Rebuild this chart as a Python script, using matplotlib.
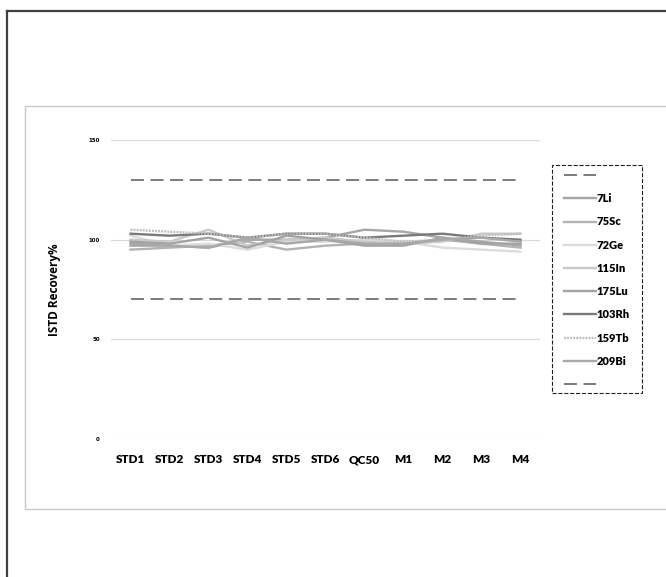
import matplotlib.pyplot as plt
import matplotlib.patches as mpatches
from matplotlib.lines import Line2D

samples = ["STD1", "STD2", "STD3", "STD4", "STD5", "STD6", "QC50", "M1", "M2", "M3", "M4"]
upper_limit = [130] * 11
lower_limit = [70] * 11

isotopes = ["7Li", "75Sc", "72Ge", "115In", "175Lu", "103Rh", "159Tb", "209Bi"]
li7   = [98, 97, 96, 100, 100, 101, 105, 104, 101, 99, 97]
sc75  = [95, 96, 97, 99, 95, 97, 98, 98, 100, 98, 96]
ge72  = [102, 97, 98, 95, 99, 99, 100, 99, 96, 95, 94]
in115 = [100, 99, 105, 97, 100, 101, 99, 98, 99, 103, 103]
lu175 = [99, 98, 101, 96, 102, 100, 97, 97, 101, 98, 98]
rh103 = [103, 102, 103, 101, 103, 103, 101, 102, 103, 101, 100]
tb159 = [105, 104, 103, 101, 103, 103, 101, 99, 100, 102, 103]
bi209 = [97, 97, 96, 101, 98, 100, 98, 98, 100, 101, 99]
series = [li7, sc75, ge72, in115, lu175, rh103, tb159, bi209]

colors = ["#a6a6a6", "#b3b3b3", "#dcdcdc", "#c9c9c9", "#a3a3a3", "#7a7a7a", "#bdbdbd", "#a8a8a8"]
styles = ["-", "-", "-", "-", "-", "-", (0, (0.8, 0.5)), "-"]

W, H = 666, 577
fig = plt.figure(figsize=(W / 100, H / 100), dpi=100)
fig.patch.set_facecolor("white")

# outer frame and inner chart border
fig.add_artist(Line2D([6.5 / W, 6.5 / W], [0, 1 - 11 / H], color="#404040", lw=1.6))
fig.add_artist(Line2D([6.5 / W, 1], [1 - 11 / H, 1 - 11 / H], color="#404040", lw=1.6))
fig.add_artist(mpatches.Rectangle((25 / W, 1 - 509 / H), 660 / W, 403 / H,
                                  fill=False, edgecolor="#c8c8c8", lw=1.0))
# dashed legend box
fig.add_artist(mpatches.Rectangle((552 / W, 1 - 393 / H), 90 / W, 228 / H,
                                  fill=False, edgecolor="#202020", lw=0.8, linestyle="--"))

ax = fig.add_axes([111 / W, 1 - 439 / H, 429 / W, 299 / H])
x = list(range(len(samples)))
dash = (0, (8.5, 4.3))

ax.plot(x, upper_limit, color="#595959", lw=1.1, linestyle=dash, label=" ")
for vals, name, c, s in zip(series, isotopes, colors, styles):
    ax.plot(x, vals, color=c, lw=1.7, linestyle=s, label=name)
ax.plot(x, lower_limit, color="#595959", lw=1.1, linestyle=dash, label=" ")

ax.set_xlim(-0.5, len(samples) - 0.5)
ax.set_ylim(0, 150)
ax.set_yticks([0, 50, 100, 150])
ax.set_yticklabels(["0", "50", "100", "150"], fontsize=4, fontweight="bold")
ax.set_xticks(x)
ax.set_xticklabels(samples, fontsize=8.5, fontweight="heavy", family="Lato")
ax.tick_params(axis="both", length=0)
ax.tick_params(axis="x", pad=11)
ax.tick_params(axis="y", pad=8)
ax.grid(axis="y", color="#d9d9d9", lw=0.8)
ax.set_axisbelow(True)
for sp in ax.spines.values():
    sp.set_visible(False)
ax.set_ylabel("ISTD Recovery%", fontsize=8.5, family="Open Sans", fontweight="bold", labelpad=20)

leg = ax.legend(loc="upper left", bbox_to_anchor=(564 / W, 1 - 170 / H),
                bbox_transform=fig.transFigure, borderaxespad=0, frameon=False,
                prop={"family": "Lato", "weight": "heavy", "size": 8},
                handlelength=2.9, handletextpad=0.05, labelspacing=1.1,
                borderpad=0)

plt.savefig("out.png", dpi=100)
